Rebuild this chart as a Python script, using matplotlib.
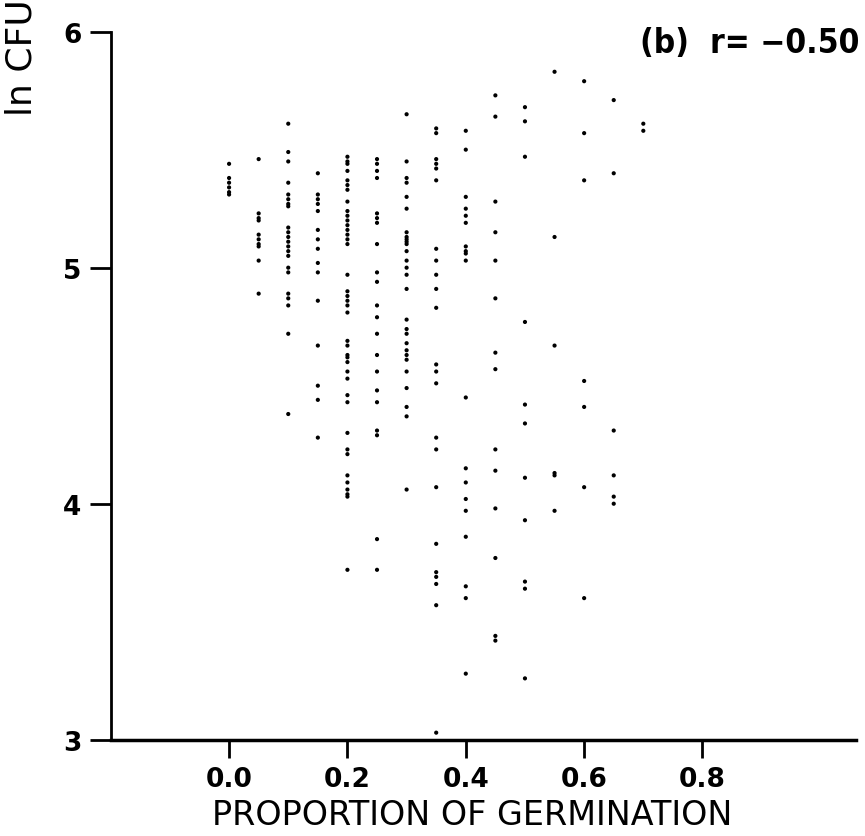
import matplotlib
matplotlib.use("Agg")
import matplotlib.pyplot as plt

# ln CFU values observed at each germination proportion
germ_levels = [0.0, 0.05, 0.1, 0.15, 0.2, 0.25, 0.3, 0.35,
               0.4, 0.45, 0.5, 0.55, 0.6, 0.65, 0.7]

cfu_00 = [5.44, 5.38, 5.36, 5.34, 5.32, 5.31]
cfu_05 = [5.46, 5.23, 5.21, 5.20, 5.14, 5.12, 5.10, 5.09, 5.03, 4.89]
cfu_10 = [5.61, 5.49, 5.45, 5.36, 5.31, 5.29, 5.27, 5.26, 5.17, 5.15,
          5.13, 5.11, 5.09, 5.07, 5.05, 5.00, 4.98, 4.89, 4.87, 4.84,
          4.72, 4.38]
cfu_15 = [5.40, 5.31, 5.29, 5.27, 5.24, 5.16, 5.12, 5.08, 5.02, 4.98,
          4.86, 4.67, 4.50, 4.44, 4.28]
cfu_20 = [5.47, 5.45, 5.44, 5.41, 5.37, 5.35, 5.33, 5.28, 5.24, 5.22,
          5.20, 5.18, 5.16, 5.14, 5.12, 5.10, 4.97, 4.90, 4.88, 4.86,
          4.84, 4.81, 4.69, 4.67, 4.63, 4.62, 4.60, 4.56, 4.53, 4.46,
          4.43, 4.30, 4.23, 4.21, 4.12, 4.09, 4.06, 4.04, 4.03, 3.72]
cfu_25 = [5.46, 5.44, 5.41, 5.38, 5.23, 5.21, 5.19, 5.10, 4.98, 4.94,
          4.84, 4.79, 4.72, 4.63, 4.56, 4.48, 4.43, 4.31, 4.29, 3.85,
          3.72]
cfu_30 = [5.65, 5.45, 5.38, 5.36, 5.30, 5.25, 5.15, 5.13, 5.12, 5.11,
          5.10, 5.07, 5.03, 5.00, 4.97, 4.91, 4.78, 4.74, 4.72, 4.68,
          4.65, 4.63, 4.61, 4.56, 4.49, 4.41, 4.37, 4.06]
cfu_35 = [5.59, 5.57, 5.46, 5.44, 5.42, 5.37, 5.08, 5.03, 4.97, 4.91,
          4.83, 4.59, 4.56, 4.51, 4.28, 4.23, 4.07, 3.83, 3.71, 3.69,
          3.66, 3.57, 3.03]
cfu_40 = [5.58, 5.50, 5.30, 5.25, 5.22, 5.19, 5.09, 5.07, 5.06, 5.03,
          4.45, 4.15, 4.09, 4.02, 3.97, 3.86, 3.65, 3.60, 3.28]
cfu_45 = [5.73, 5.64, 5.28, 5.15, 5.03, 4.87, 4.64, 4.57, 4.23, 4.14,
          3.98, 3.77, 3.44, 3.42]
cfu_50 = [5.68, 5.62, 5.47, 4.77, 4.42, 4.34, 4.11, 3.93, 3.67, 3.64,
          3.26]
cfu_55 = [5.83, 5.13, 4.67, 4.13, 4.12, 3.97]
cfu_60 = [5.79, 5.57, 5.37, 4.52, 4.41, 4.07, 3.60]
cfu_65 = [5.71, 5.40, 4.31, 4.12, 4.03, 4.00]
cfu_70 = [5.61, 5.58]

cfu_groups = [cfu_00, cfu_05, cfu_10, cfu_15, cfu_20, cfu_25, cfu_30,
              cfu_35, cfu_40, cfu_45, cfu_50, cfu_55, cfu_60, cfu_65,
              cfu_70]

x_ticks = [0.0, 0.2, 0.4, 0.6, 0.8]
y_ticks = [3, 4, 5, 6]

fig = plt.figure(figsize=(8.65, 8.37), dpi=100)
ax = fig.add_axes([0.128, 0.115, 0.862, 0.846])

for g, vals in zip(germ_levels, cfu_groups):
    ax.scatter([g] * len(vals), vals, s=9, c="black", edgecolors="none")

ax.set_xlim(-0.2, 1.06)
ax.set_ylim(3, 6)
ax.spines["top"].set_visible(False)
ax.spines["right"].set_visible(False)
ax.spines["left"].set_linewidth(2)
ax.spines["bottom"].set_linewidth(2.5)

ax.set_xticks(x_ticks)
ax.set_xticklabels(["%.1f" % t for t in x_ticks], fontsize=19, fontweight="bold")
ax.set_yticks(y_ticks)
ax.set_yticklabels([str(t) for t in y_ticks], fontsize=19, fontweight="bold")
ax.tick_params(axis="x", direction="out", length=13, width=2, pad=6)
ax.tick_params(axis="y", direction="out", length=15, width=2, pad=6)

ax.set_xlabel("PROPORTION OF GERMINATION", fontsize=24)
ax.xaxis.set_label_coords(0.485, -0.082)

fig.text(0.026, 1 - 116 / 837, "ln CFU per g", rotation=90, fontsize=26,
         ha="center", va="bottom")
fig.text(0.993, 1 - 53 / 837, "(b)  r= \u22120.50", fontsize=24,
         fontweight="bold", fontstretch="condensed", ha="right", va="baseline")

fig.savefig("out.png", dpi=100)
